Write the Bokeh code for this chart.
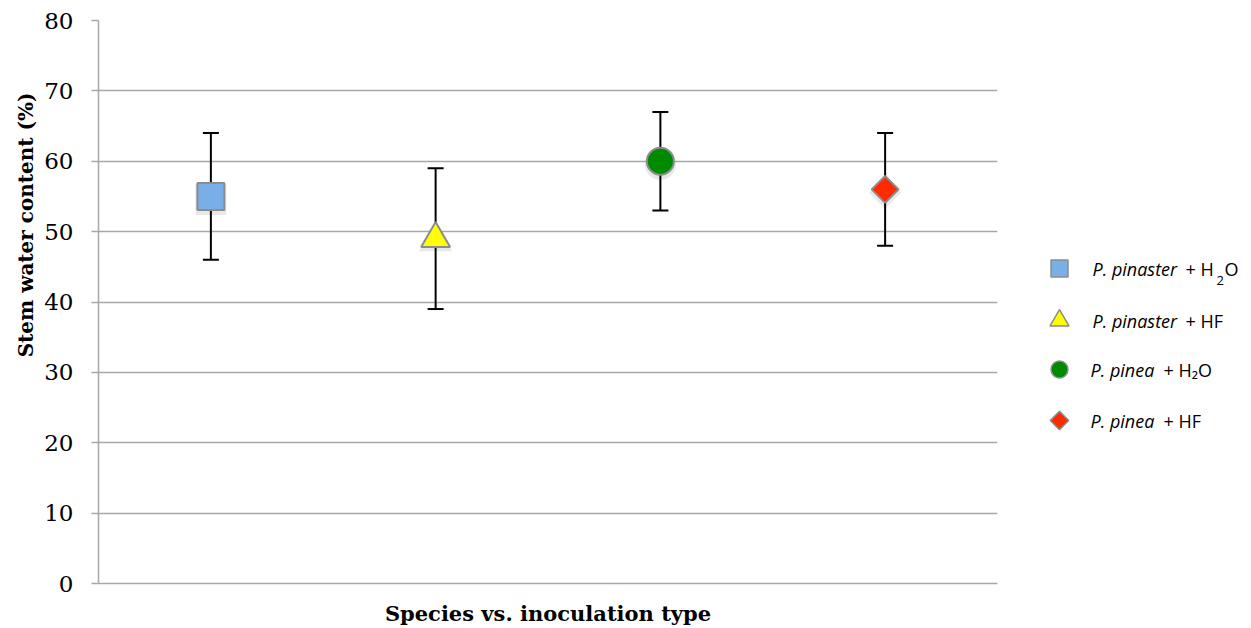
import math
from bokeh.plotting import figure
from bokeh.layouts import row
from bokeh.models import Whisker, TeeHead, ColumnDataSource, Range1d, FixedTicker, Title
from bokeh.core.properties import value
from bokeh.embed import file_html
from bokeh.resources import INLINE

# data
groups = ["P. pinaster + H2O", "P. pinaster + HF", "P. pinea + H2O", "P. pinea + HF"]
species = ["P. pinaster", "P. pinaster", "P. pinea", "P. pinea"]
treat = ["H2O", "HF", "H₂O", "HF"]
means = [55, 49, 60, 56]
lower = [46, 39, 53, 48]
upper = [64, 59, 67, 64]
markers = ["square", "triangle", "circle", "square"]
angles = [0, 0, 0, math.pi / 4]
fills = ["#7aaee6", "#ffff00", "#008a00", "#ff2a00"]
sizes = [27, 29, 27, 19]
yticks = [0, 10, 20, 30, 40, 50, 60, 70, 80]
y_title = "Stem water content (%)"
x_title = "Species vs. inoculation type"

xpos = [i + 0.5 for i in range(len(groups))]

p = figure(width=1020, height=628, x_range=Range1d(0, 4), y_range=Range1d(0, 80),
           output_backend="svg", toolbar_location=None,
           min_border_left=98, min_border_right=23, min_border_top=20, min_border_bottom=45)
p.outline_line_color = None
p.background_fill_color = "white"
p.border_fill_color = "white"
p.xgrid.grid_line_color = None
p.ygrid.grid_line_color = "#a8a8a8"
p.ygrid.grid_line_width = 1.5
p.yaxis.ticker = FixedTicker(ticks=yticks)
p.yaxis.axis_line_color = "#a8a8a8"
p.yaxis.axis_line_width = 1.5
p.yaxis.major_tick_line_color = "#a8a8a8"
p.yaxis.major_tick_line_width = 1.5
p.yaxis.major_tick_out = 7
p.yaxis.major_tick_in = 0
p.yaxis.minor_tick_line_color = None
p.yaxis.major_label_standoff = 18
p.yaxis.major_label_text_font = "DejaVu Serif"
p.yaxis.major_label_text_font_size = "23px"
p.yaxis.major_label_text_color = "#000000"

# y title placed like the original (above the vertical centre of the frame)
yt = Title(text=y_title, align="right", offset=72, standoff=8,
           text_font="DejaVu Serif", text_font_style="bold", text_font_size="20px",
           text_color="#000000")
p.add_layout(yt, "left")

p.xaxis.ticker = FixedTicker(ticks=[])
p.xaxis.axis_line_color = "#a8a8a8"
p.xaxis.axis_line_width = 1.5
p.xaxis.major_tick_line_color = None
p.xaxis.minor_tick_line_color = None
p.xaxis.axis_label = x_title
p.xaxis.axis_label_text_font = "DejaVu Serif"
p.xaxis.axis_label_text_font_style = "bold"
p.xaxis.axis_label_text_font_size = "21px"
p.xaxis.axis_label_text_color = "#000000"
p.xaxis.axis_label_standoff = 17

src = ColumnDataSource(dict(x=xpos, lo=lower, hi=upper))
w = Whisker(source=src, base="x", lower="lo", upper="hi", dimension="height",
            line_color="black", line_width=2,
            upper_head=TeeHead(size=16, line_color="black", line_width=2),
            lower_head=TeeHead(size=16, line_color="black", line_width=2))
p.add_layout(w)

for i in range(len(groups)):
    # soft shadow
    p.scatter([xpos[i]], [means[i] - 0.45], marker=markers[i], size=sizes[i] + 4, angle=angles[i],
              fill_color="#000000", fill_alpha=0.09, line_color=None)
    p.scatter([xpos[i]], [means[i]], marker=markers[i], size=sizes[i], angle=angles[i],
              fill_color=fills[i], line_color="#8c8c8c", line_width=2)

# legend panel (coordinates in page pixels; frame aligned with main plot frame)
lg = figure(width=231, height=628, x_range=Range1d(1020, 1251), y_range=Range1d(583, 20),
            output_backend="svg", toolbar_location=None,
            min_border_left=0, min_border_right=0, min_border_top=20, min_border_bottom=45)
lg.axis.visible = False
lg.grid.visible = False
lg.outline_line_color = None
lg.border_fill_color = "white"
lg.background_fill_color = "white"

ly = [268, 320, 369, 420]
lsizes = [17, 19, 17, 13]
sp_x = [1092, 1092, 1090, 1090]
plus_x = [1185, 1185, 1163, 1163]
FS = "18px"
for i in range(len(groups)):
    lg.scatter([1059], [ly[i]], marker=markers[i], size=lsizes[i], angle=angles[i],
               fill_color=fills[i], line_color="#8c8c8c", line_width=1.5)
    lg.text([sp_x[i]], [ly[i]], text=[species[i]], text_font=value("Open Sans"),
            text_font_style="italic", text_font_size=FS,
            text_baseline="middle", text_color="black")
    if treat[i] == "H2O":
        lg.text([plus_x[i]], [ly[i]], text=["+ H"], text_font=value("Open Sans"),
                text_font_size=FS, text_baseline="middle", text_color="black")
        lg.text([plus_x[i] + 31], [ly[i] + 12], text=["2"], text_font=value("Open Sans"),
                text_font_size="13px", text_baseline="middle", text_color="black")
        lg.text([plus_x[i] + 39], [ly[i]], text=["O"], text_font=value("Open Sans"),
                text_font_size=FS, text_baseline="middle", text_color="black")
    else:
        lg.text([plus_x[i]], [ly[i]], text=["+ " + treat[i]], text_font=value("Open Sans"),
                text_font_size=FS, text_baseline="middle", text_color="black")

layout = row(p, lg)
open("out.html", "w").write(file_html(layout, INLINE))
